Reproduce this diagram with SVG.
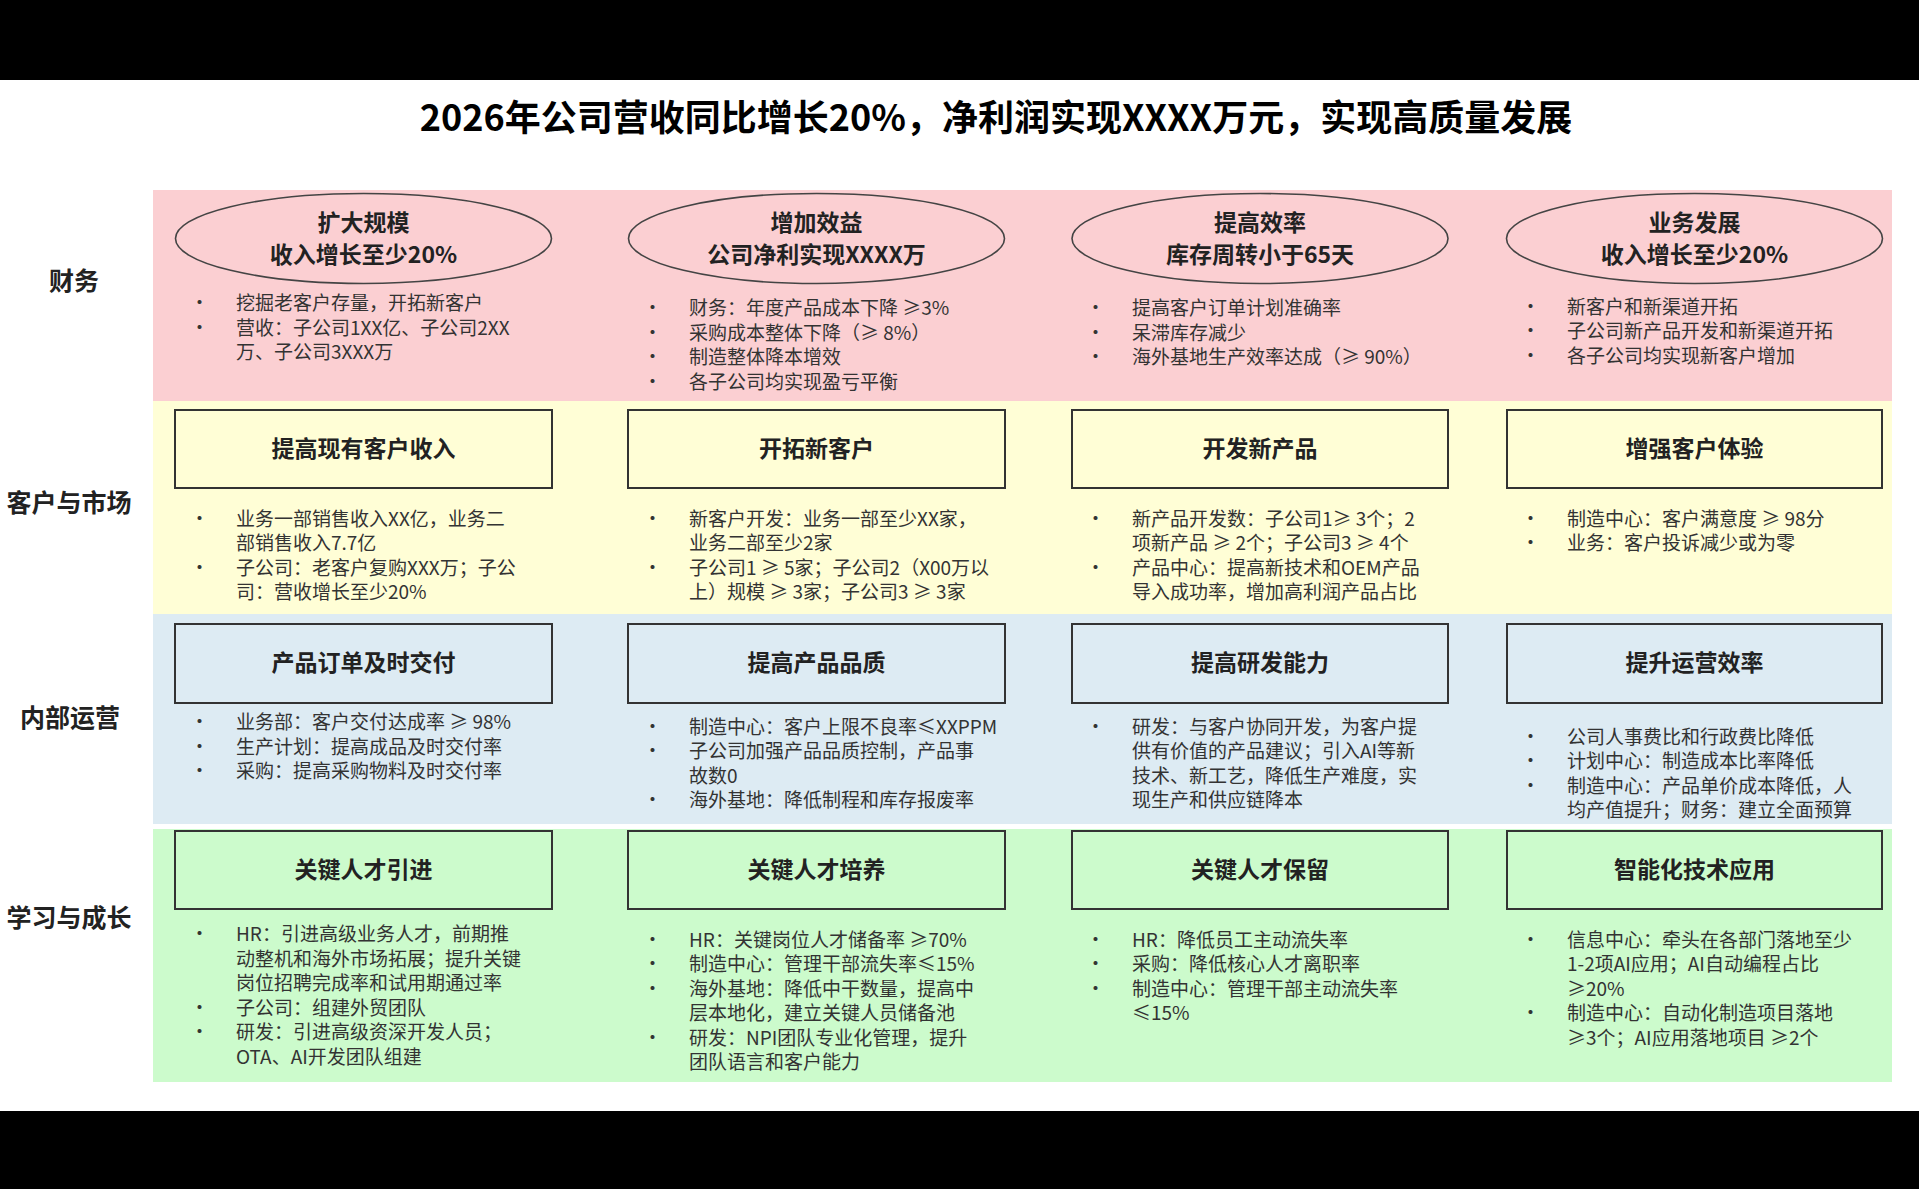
<svg xmlns="http://www.w3.org/2000/svg" width="1919" height="1189" viewBox="0 0 1919 1189">
<style>
.t{font-family:"Noto Sans CJK SC","Liberation Sans",sans-serif;fill:#222}
.title{font-size:36px;font-weight:bold;fill:#000}
.lab{font-size:25px;font-weight:bold;text-anchor:middle}
.h{font-size:23px;font-weight:bold;text-anchor:middle}
.b{font-size:19px;fill:#333}
.box{stroke:#333;stroke-width:2}
.ell{stroke:#444;stroke-width:1.6;fill:none}
</style>
<rect width="1919" height="1189" fill="#fff"/>
<rect width="1919" height="80" fill="#000"/>
<rect y="1111" width="1919" height="78" fill="#000"/>
<text class="t title" x="996" y="131" text-anchor="middle">2026年公司营收同比增长20%，净利润实现XXXX万元，实现高质量发展</text>
<g id="bands">
<rect x="153" y="190" width="1739" height="211" fill="#FBCFD2"/>
<rect x="153" y="401" width="1739" height="213" fill="#FFFED6"/>
<rect x="153" y="614" width="1739" height="210" fill="#DDEBF3"/>
<rect x="153" y="829" width="1739" height="253" fill="#CCFBCC"/>
</g>
<g id="labels">
<text class="t lab" x="74" y="290">财务</text>
<text class="t lab" x="69" y="512">客户与市场</text>
<text class="t lab" x="70" y="727">内部运营</text>
<text class="t lab" x="69" y="927">学习与成长</text>
</g>
<g id="finance">
<ellipse class="ell" cx="363.5" cy="238.5" rx="188" ry="45"/>
<ellipse class="ell" cx="816.5" cy="238.5" rx="188" ry="45"/>
<ellipse class="ell" cx="1260" cy="238.5" rx="188" ry="45"/>
<ellipse class="ell" cx="1694.5" cy="238.5" rx="188" ry="45"/>
<text class="t h" x="363.5" y="231">扩大规模</text><text class="t h" x="363.5" y="263">收入增长至少20%</text>
<text class="t h" x="816.5" y="231">增加效益</text><text class="t h" x="816.5" y="263">公司净利实现XXXX万</text>
<text class="t h" x="1260" y="231">提高效率</text><text class="t h" x="1260" y="263">库存周转小于65天</text>
<text class="t h" x="1694.5" y="231">业务发展</text><text class="t h" x="1694.5" y="263">收入增长至少20%</text>
<g class="t b">
<text x="190" y="310">•</text><text x="236" y="310">挖掘老客户存量，开拓新客户</text>
<text x="190" y="335">•</text><text x="236" y="335">营收：子公司1XX亿、子公司2XX</text>
<text x="236" y="359">万、子公司3XXX万</text>
<text x="643" y="315">•</text><text x="689" y="315">财务：年度产品成本下降 ≥3%</text>
<text x="643" y="340">•</text><text x="689" y="340">采购成本整体下降（≥ 8%）</text>
<text x="643" y="364">•</text><text x="689" y="364">制造整体降本增效</text>
<text x="643" y="389">•</text><text x="689" y="389">各子公司均实现盈亏平衡</text>
<text x="1086" y="315">•</text><text x="1132" y="315">提高客户订单计划准确率</text>
<text x="1086" y="340">•</text><text x="1132" y="340">呆滞库存减少</text>
<text x="1086" y="364">•</text><text x="1132" y="364">海外基地生产效率达成（≥ 90%）</text>
<text x="1521" y="314">•</text><text x="1567" y="314">新客户和新渠道开拓</text>
<text x="1521" y="338">•</text><text x="1567" y="338">子公司新产品开发和新渠道开拓</text>
<text x="1521" y="363">•</text><text x="1567" y="363">各子公司均实现新客户增加</text>
</g>
</g>
<g id="customer">
<rect class="box" x="175" y="410" width="377" height="78" fill="#FFFED6"/>
<rect class="box" x="628" y="410" width="377" height="78" fill="#FFFED6"/>
<rect class="box" x="1072" y="410" width="376" height="78" fill="#FFFED6"/>
<rect class="box" x="1507" y="410" width="375" height="78" fill="#FFFED6"/>
<text class="t h" x="363.5" y="457">提高现有客户收入</text>
<text class="t h" x="816.5" y="457">开拓新客户</text>
<text class="t h" x="1260" y="457">开发新产品</text>
<text class="t h" x="1694.5" y="457">增强客户体验</text>
<g class="t b">
<text x="190" y="526">•</text><text x="236" y="526">业务一部销售收入XX亿，业务二</text>
<text x="236" y="550">部销售收入7.7亿</text>
<text x="190" y="575">•</text><text x="236" y="575">子公司：老客户复购XXX万；子公</text>
<text x="236" y="599">司：营收增长至少20%</text>
<text x="643" y="526">•</text><text x="689" y="526">新客户开发：业务一部至少XX家，</text>
<text x="689" y="550">业务二部至少2家</text>
<text x="643" y="575">•</text><text x="689" y="575">子公司1 ≥ 5家；子公司2（X00万以</text>
<text x="689" y="599">上）规模 ≥ 3家；子公司3 ≥ 3家</text>
<text x="1086" y="526">•</text><text x="1132" y="526">新产品开发数：子公司1≥ 3个；2</text>
<text x="1132" y="550">项新产品 ≥ 2个；子公司3 ≥ 4个</text>
<text x="1086" y="575">•</text><text x="1132" y="575">产品中心：提高新技术和OEM产品</text>
<text x="1132" y="599">导入成功率，增加高利润产品占比</text>
<text x="1521" y="526">•</text><text x="1567" y="526">制造中心：客户满意度 ≥ 98分</text>
<text x="1521" y="550">•</text><text x="1567" y="550">业务：客户投诉减少或为零</text>
</g>
</g>
<g id="operations">
<rect class="box" x="175" y="624" width="377" height="79" fill="#DDEBF3"/>
<rect class="box" x="628" y="624" width="377" height="79" fill="#DDEBF3"/>
<rect class="box" x="1072" y="624" width="376" height="79" fill="#DDEBF3"/>
<rect class="box" x="1507" y="624" width="375" height="79" fill="#DDEBF3"/>
<text class="t h" x="363.5" y="671">产品订单及时交付</text>
<text class="t h" x="816.5" y="671">提高产品品质</text>
<text class="t h" x="1260" y="671">提高研发能力</text>
<text class="t h" x="1694.5" y="671">提升运营效率</text>
<g class="t b">
<text x="190" y="729">•</text><text x="236" y="729">业务部：客户交付达成率 ≥ 98%</text>
<text x="190" y="754">•</text><text x="236" y="754">生产计划：提高成品及时交付率</text>
<text x="190" y="778">•</text><text x="236" y="778">采购：提高采购物料及时交付率</text>
<text x="643" y="734">•</text><text x="689" y="734">制造中心：客户上限不良率≤XXPPM</text>
<text x="643" y="758">•</text><text x="689" y="758">子公司加强产品品质控制，产品事</text>
<text x="689" y="783">故数0</text>
<text x="643" y="807">•</text><text x="689" y="807">海外基地：降低制程和库存报废率</text>
<text x="1086" y="734">•</text><text x="1132" y="734">研发：与客户协同开发，为客户提</text>
<text x="1132" y="758">供有价值的产品建议；引入AI等新</text>
<text x="1132" y="783">技术、新工艺，降低生产难度，实</text>
<text x="1132" y="807">现生产和供应链降本</text>
<text x="1521" y="744">•</text><text x="1567" y="744">公司人事费比和行政费比降低</text>
<text x="1521" y="768">•</text><text x="1567" y="768">计划中心：制造成本比率降低</text>
<text x="1521" y="793">•</text><text x="1567" y="793">制造中心：产品单价成本降低，人</text>
<text x="1567" y="817">均产值提升；财务：建立全面预算</text>
</g>
</g>
<g id="learning">
<rect class="box" x="175" y="831" width="377" height="78" fill="#CCFBCC"/>
<rect class="box" x="628" y="831" width="377" height="78" fill="#CCFBCC"/>
<rect class="box" x="1072" y="831" width="376" height="78" fill="#CCFBCC"/>
<rect class="box" x="1507" y="831" width="375" height="78" fill="#CCFBCC"/>
<text class="t h" x="363.5" y="878">关键人才引进</text>
<text class="t h" x="816.5" y="878">关键人才培养</text>
<text class="t h" x="1260" y="878">关键人才保留</text>
<text class="t h" x="1694.5" y="878">智能化技术应用</text>
<g class="t b">
<text x="190" y="941">•</text><text x="236" y="941">HR：引进高级业务人才，前期推</text>
<text x="236" y="966">动整机和海外市场拓展；提升关键</text>
<text x="236" y="990">岗位招聘完成率和试用期通过率</text>
<text x="190" y="1015">•</text><text x="236" y="1015">子公司：组建外贸团队</text>
<text x="190" y="1039">•</text><text x="236" y="1039">研发：引进高级资深开发人员；</text>
<text x="236" y="1064">OTA、AI开发团队组建</text>
<text x="643" y="947">•</text><text x="689" y="947">HR：关键岗位人才储备率 ≥70%</text>
<text x="643" y="971">•</text><text x="689" y="971">制造中心：管理干部流失率≤15%</text>
<text x="643" y="996">•</text><text x="689" y="996">海外基地：降低中干数量，提高中</text>
<text x="689" y="1020">层本地化，建立关键人员储备池</text>
<text x="643" y="1045">•</text><text x="689" y="1045">研发：NPI团队专业化管理，提升</text>
<text x="689" y="1069">团队语言和客户能力</text>
<text x="1086" y="947">•</text><text x="1132" y="947">HR：降低员工主动流失率</text>
<text x="1086" y="971">•</text><text x="1132" y="971">采购：降低核心人才离职率</text>
<text x="1086" y="996">•</text><text x="1132" y="996">制造中心：管理干部主动流失率</text>
<text x="1132" y="1020">≤15%</text>
<text x="1521" y="947">•</text><text x="1567" y="947">信息中心：牵头在各部门落地至少</text>
<text x="1567" y="971">1-2项AI应用；AI自动编程占比</text>
<text x="1567" y="996">≥20%</text>
<text x="1521" y="1020">•</text><text x="1567" y="1020">制造中心：自动化制造项目落地</text>
<text x="1567" y="1045">≥3个；AI应用落地项目 ≥2个</text>
</g>
</g>
<g id="connectors"></g>
</svg>
